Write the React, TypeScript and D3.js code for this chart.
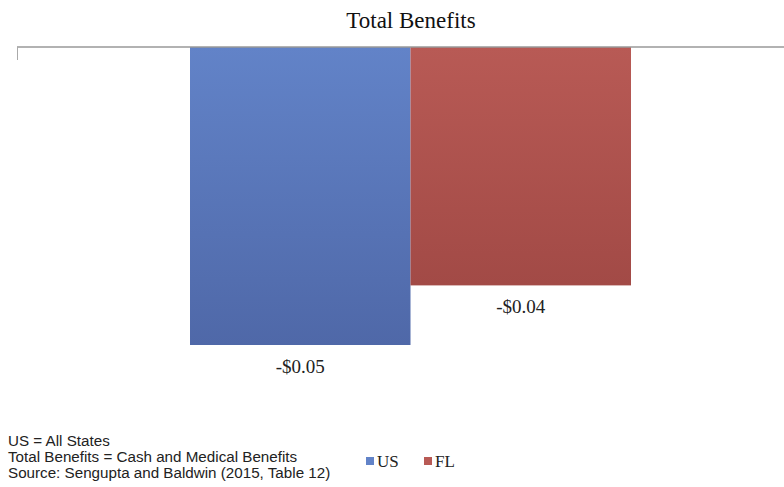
import React from "react";
import * as d3 from "d3";

const categories = ["US", "FL"];
const values = [-0.05, -0.04];
const labels = ["-$0.05", "-$0.04"];
const colorsTop = ["#6283c8", "#b85a55"];
const colorsBottom = ["#4f68a8", "#a24a46"];
const notes = [
  "US = All States",
  "Total Benefits = Cash and Medical Benefits",
  "Source: Sengupta and Baldwin (2015, Table 12)",
];

export default function App() {
  const W = 784, H = 487;
  const y0 = 47;
  const y = d3.scaleLinear().domain([0, -0.05]).range([y0, 345]);
  const x = d3.scaleBand().domain(categories).range([190, 631]).paddingInner(0).paddingOuter(0);
  return (
    <svg width={W} height={H} style={{ position: "absolute", left: 0, top: 0 }}>
      <defs>
        {categories.map((c, i) => (
          <linearGradient key={c} id={`g${i}`} x1="0" y1="0" x2="0" y2="1">
            <stop offset="0" stopColor={colorsTop[i]} />
            <stop offset="1" stopColor={colorsBottom[i]} />
          </linearGradient>
        ))}
      </defs>
      <rect width={W} height={H} fill="#fff" />
      <text x={411} y={28} textAnchor="middle" fontFamily="Liberation Serif, serif" fontSize={23} fill="#111">
        Total Benefits
      </text>
      {categories.map((c, i) => (
        <rect key={c} x={x(c)} y={y(0)} width={x.bandwidth()} height={y(values[i]) - y(0)} fill={`url(#g${i})`} />
      ))}
      <line x1={17} x2={W} y1={y0} y2={y0} stroke="#999" strokeWidth={1.5} />
      <line x1={17.5} x2={17.5} y1={y0} y2={60} stroke="#aaa" strokeWidth={1} />
      {categories.map((c, i) => (
        <text key={c} x={(x(c) as number) + x.bandwidth() / 2} y={y(values[i]) + 28}
          textAnchor="middle" fontFamily="Liberation Serif, serif" fontSize={19} fill="#222">
          {labels[i]}
        </text>
      ))}
      {notes.map((n, i) => (
        <text key={i} x={8} y={446 + i * 16} fontFamily="Liberation Sans, Arial, sans-serif" fontSize={15.2} fill="#222">
          {n}
        </text>
      ))}
      {categories.map((c, i) => (
        <g key={c} transform={`translate(${366 + i * 58},0)`}>
          <rect x={0} y={457} width={8} height={8} fill={colorsTop[i]} />
          <text x={11} y={467} fontFamily="Liberation Serif, serif" fontSize={17} fill="#222">{c}</text>
        </g>
      ))}
    </svg>
  );
}
